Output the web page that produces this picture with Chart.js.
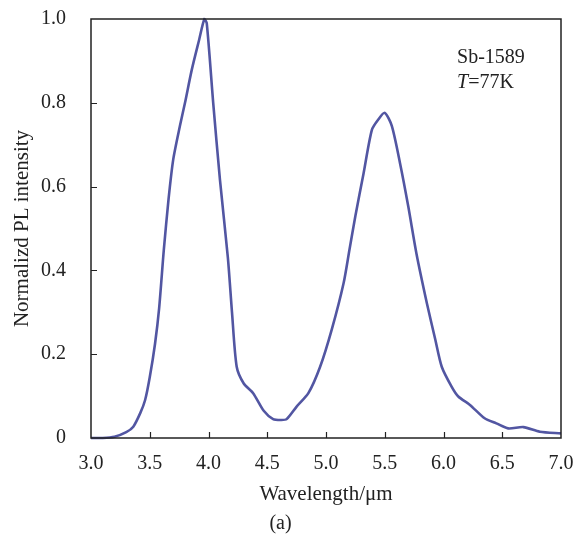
<!DOCTYPE html>
<html>
<head>
<meta charset="utf-8">
<script src="https://cdn.jsdelivr.net/npm/chart.js@4"></script>
<style>
  html, body { margin: 0; padding: 0; background: #fff; }
  #wrap { width: 585px; height: 538px; }
</style>
</head>
<body>
<div id="wrap"><canvas id="chart"></canvas></div>
<script>
// Data
var wavelength = [3.00, 3.10, 3.20, 3.30, 3.36, 3.42, 3.46, 3.50, 3.545, 3.58, 3.62, 3.66, 3.70, 3.757,
  3.80, 3.857, 3.92, 3.965, 3.985, 4.04, 4.098, 4.165, 4.20, 4.24, 4.30, 4.38, 4.47, 4.55, 4.62,
  4.665, 4.75, 4.85, 4.95, 5.05, 5.15, 5.20, 5.25, 5.32, 5.39, 5.445, 5.50, 5.56, 5.63, 5.70,
  5.77, 5.86, 5.93, 5.985, 6.07, 6.126, 6.225, 6.35, 6.45, 6.55, 6.68, 6.82, 7.00];
var intensity = [0.000, 0.000, 0.003, 0.014, 0.027, 0.06, 0.09, 0.145, 0.225, 0.31, 0.45, 0.57, 0.665, 0.745,
  0.80, 0.878, 0.95, 1.0, 0.99, 0.80, 0.615, 0.43, 0.30, 0.17, 0.13, 0.107, 0.065, 0.045, 0.043,
  0.045, 0.075, 0.107, 0.17, 0.26, 0.37, 0.45, 0.53, 0.632, 0.735, 0.76, 0.776, 0.745, 0.656, 0.553,
  0.44, 0.32, 0.235, 0.17, 0.122, 0.099, 0.079, 0.047, 0.035, 0.023, 0.026, 0.015, 0.011];

var xTicks = [3.0, 3.5, 4.0, 4.5, 5.0, 5.5, 6.0, 6.5, 7.0];
var yTicks = [0, 0.2, 0.4, 0.6, 0.8, 1.0];
var sampleLabel = 'Sb-1589';
var tempLabel = ['T', '=77K'];

var serif = 'Liberation Serif, Times New Roman, serif';
var ink = '#222';

var points = wavelength.map(function (w, i) { return { x: w, y: intensity[i] }; });

// frame, inward ticks and the sample note
var framePlugin = {
  id: 'frame',
  afterDraw: function (chart) {
    var ctx = chart.ctx, a = chart.chartArea;
    var xs = chart.scales.x, ys = chart.scales.y;
    ctx.save();
    ctx.strokeStyle = ink;
    ctx.lineWidth = 1.5;
    ctx.strokeRect(a.left, a.top, a.right - a.left, a.bottom - a.top);
    ctx.lineWidth = 1.2;
    ctx.beginPath();
    xTicks.slice(1, -1).forEach(function (v) {
      var px = Math.round(xs.getPixelForValue(v)) + 0.5;
      ctx.moveTo(px, a.bottom);
      ctx.lineTo(px, a.bottom - 6);
    });
    yTicks.slice(1, -1).forEach(function (v) {
      var py = Math.round(ys.getPixelForValue(v)) + 0.5;
      ctx.moveTo(a.left, py);
      ctx.lineTo(a.left + 6, py);
    });
    ctx.stroke();

    var tx = xs.getPixelForValue(6.115);
    ctx.fillStyle = ink;
    ctx.textBaseline = 'middle';
    ctx.textAlign = 'left';
    ctx.font = '20px ' + serif;
    ctx.fillText(sampleLabel, tx, ys.getPixelForValue(0.908));
    var ty = ys.getPixelForValue(0.848);
    ctx.font = 'italic 20px ' + serif;
    ctx.fillText(tempLabel[0], tx, ty);
    var w = ctx.measureText(tempLabel[0]).width;
    ctx.font = '20px ' + serif;
    ctx.fillText(tempLabel[1], tx + w, ty);
    ctx.restore();
  }
};

new Chart(document.getElementById('chart'), {
  type: 'line',
  data: {
    datasets: [{
      data: points,
      borderColor: 'rgb(82,86,162)',
      borderWidth: 2.6,
      pointRadius: 0,
      fill: false,
      tension: 0.25,
      clip: false
    }]
  },
  options: {
    responsive: true,
    maintainAspectRatio: false,
    animation: false,
    layout: { padding: { left: 0, right: 24, top: 19, bottom: 0 } },
    plugins: {
      legend: { display: false },
      tooltip: { enabled: false },
      title: {
        display: true,
        text: '(a)',
        position: 'bottom',
        color: ink,
        font: { family: serif, size: 20, weight: 'normal' },
        padding: { top: 0, bottom: 2 }
      }
    },
    scales: {
      x: {
        type: 'linear',
        min: 3,
        max: 7,
        afterFit: function (s) { s.height = 74; },
        afterBuildTicks: function (s) { s.ticks = xTicks.map(function (v) { return { value: v }; }); },
        grid: { display: false },
        border: { display: false },
        ticks: {
          color: ink,
          font: { family: serif, size: 20 },
          padding: 6,
          maxRotation: 0,
          callback: function (v) { return Number(v).toFixed(1); }
        },
        title: {
          display: true,
          text: 'Wavelength/μm',
          color: ink,
          font: { family: serif, size: 21 },
          padding: { top: 0, bottom: 5 }
        }
      },
      y: {
        min: 0,
        max: 1,
        afterFit: function (s) { s.width = 91; s.paddingTop = 0; s.paddingBottom = 0; },
        afterBuildTicks: function (s) { s.ticks = yTicks.map(function (v) { return { value: v }; }); },
        grid: { display: false },
        border: { display: false },
        ticks: {
          color: ink,
          font: { family: serif, size: 20 },
          padding: 17,
          callback: function (v) { return v === 0 ? '0' : Number(v).toFixed(1); }
        },
        title: {
          display: true,
          text: 'Normalizd PL intensity',
          color: ink,
          font: { family: serif, size: 21 },
          padding: { top: 10, bottom: 0 }
        }
      }
    }
  },
  plugins: [framePlugin]
});
</script>
</body>
</html>
